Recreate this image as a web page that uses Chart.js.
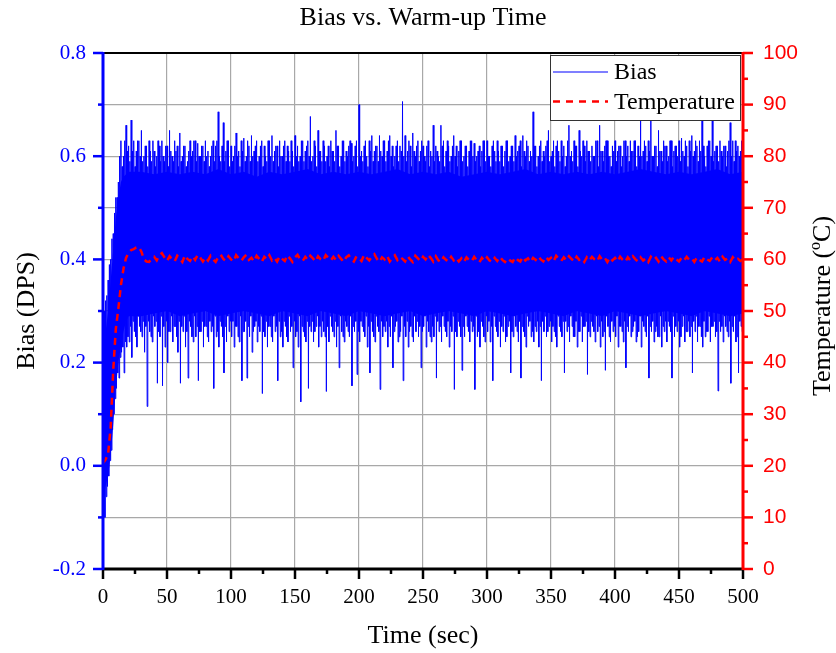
<!DOCTYPE html>
<html>
<head>
<meta charset="utf-8">
<script src="https://cdn.jsdelivr.net/npm/chart.js@4"></script>
<style>
  body { margin: 0; background: #fff; }
  canvas { display: block; }
</style>
</head>
<body>
<canvas id="warmupChart" width="836" height="653"></canvas>
<script>
// bias trace: a peak value at every whole second, a dip value half a second later
const biasPeak = [
  0.26, 0.30, 0.32, 0.33, 0.36, 0.39, 0.40, 0.44, 0.45, 0.49, 0.52, 0.52, 0.55, 0.60, 0.63, 0.58, 0.60, 0.63, 0.66, 0.61,
  0.62, 0.59, 0.67, 0.61, 0.63, 0.58, 0.61, 0.63, 0.63, 0.60, 0.65, 0.59, 0.60, 0.62, 0.62, 0.58, 0.63, 0.61, 0.59, 0.63,
  0.61, 0.58, 0.60, 0.63, 0.62, 0.59, 0.63, 0.60, 0.59, 0.62, 0.62, 0.58, 0.65, 0.61, 0.60, 0.59, 0.63, 0.61, 0.62, 0.58,
  0.645, 0.59, 0.60, 0.62, 0.62, 0.58, 0.59, 0.61, 0.63, 0.60, 0.61, 0.63, 0.63, 0.59, 0.625, 0.60, 0.60, 0.62, 0.62, 0.59,
  0.63, 0.60, 0.61, 0.58, 0.60, 0.62, 0.63, 0.59, 0.62, 0.63, 0.686, 0.60, 0.59, 0.62, 0.665, 0.59, 0.61, 0.63, 0.63, 0.58,
  0.62, 0.59, 0.60, 0.62, 0.645, 0.60, 0.61, 0.58, 0.63, 0.61, 0.635, 0.59, 0.60, 0.63, 0.62, 0.59, 0.64, 0.60, 0.61, 0.62,
  0.63, 0.59, 0.60, 0.62, 0.63, 0.58, 0.62, 0.60, 0.59, 0.63, 0.63, 0.60, 0.64, 0.59, 0.61, 0.62, 0.62, 0.58, 0.63, 0.60,
  0.60, 0.62, 0.63, 0.59, 0.62, 0.61, 0.59, 0.63, 0.61, 0.58, 0.64, 0.60, 0.62, 0.59, 0.60, 0.63, 0.63, 0.59, 0.61, 0.62,
  0.63, 0.60, 0.677, 0.59, 0.60, 0.63, 0.62, 0.58, 0.65, 0.61, 0.61, 0.59, 0.63, 0.62, 0.59, 0.60, 0.62, 0.58, 0.63, 0.61,
  0.61, 0.59, 0.65, 0.62, 0.62, 0.58, 0.60, 0.63, 0.63, 0.59, 0.61, 0.60, 0.62, 0.63, 0.625, 0.59, 0.60, 0.62, 0.63, 0.58,
  0.70, 0.60, 0.61, 0.59, 0.62, 0.63, 0.60, 0.58, 0.63, 0.61, 0.64, 0.59, 0.61, 0.62, 0.62, 0.59, 0.64, 0.61, 0.60, 0.63,
  0.63, 0.59, 0.61, 0.63, 0.64, 0.60, 0.62, 0.58, 0.60, 0.62, 0.63, 0.59, 0.62, 0.61, 0.706, 0.60, 0.64, 0.59, 0.61, 0.63,
  0.62, 0.58, 0.645, 0.61, 0.60, 0.62, 0.63, 0.59, 0.61, 0.63, 0.62, 0.60, 0.59, 0.62, 0.63, 0.58, 0.61, 0.60, 0.66, 0.59,
  0.62, 0.61, 0.60, 0.59, 0.66, 0.62, 0.63, 0.58, 0.61, 0.63, 0.62, 0.59, 0.60, 0.62, 0.64, 0.60, 0.62, 0.58, 0.61, 0.63,
  0.63, 0.59, 0.60, 0.62, 0.62, 0.58, 0.61, 0.63, 0.63, 0.60, 0.625, 0.59, 0.60, 0.61, 0.62, 0.58, 0.61, 0.63, 0.63, 0.59,
  0.63, 0.60, 0.60, 0.58, 0.62, 0.63, 0.61, 0.59, 0.63, 0.61, 0.59, 0.62, 0.62, 0.58, 0.61, 0.63, 0.63, 0.59, 0.60, 0.62,
  0.62, 0.59, 0.64, 0.60, 0.61, 0.62, 0.63, 0.58, 0.64, 0.61, 0.60, 0.63, 0.62, 0.59, 0.61, 0.60, 0.686, 0.62, 0.62, 0.58,
  0.60, 0.62, 0.63, 0.59, 0.61, 0.60, 0.62, 0.63, 0.65, 0.59, 0.60, 0.61, 0.63, 0.58, 0.62, 0.63, 0.61, 0.59, 0.63, 0.60,
  0.62, 0.58, 0.60, 0.63, 0.66, 0.60, 0.61, 0.59, 0.63, 0.62, 0.62, 0.58, 0.65, 0.61, 0.60, 0.63, 0.62, 0.59, 0.63, 0.61,
  0.61, 0.59, 0.62, 0.60, 0.60, 0.63, 0.63, 0.58, 0.66, 0.61, 0.61, 0.59, 0.62, 0.63, 0.63, 0.60, 0.60, 0.58, 0.62, 0.61,
  0.63, 0.59, 0.61, 0.62, 0.62, 0.58, 0.60, 0.63, 0.63, 0.60, 0.62, 0.59, 0.63, 0.61, 0.61, 0.63, 0.63, 0.58, 0.62, 0.60,
  0.67, 0.60, 0.61, 0.63, 0.62, 0.59, 0.63, 0.61, 0.67, 0.60, 0.60, 0.62, 0.62, 0.58, 0.65, 0.61, 0.61, 0.59, 0.63, 0.62,
  0.62, 0.59, 0.60, 0.63, 0.63, 0.58, 0.61, 0.62, 0.62, 0.60, 0.63, 0.59, 0.635, 0.61, 0.60, 0.63, 0.62, 0.58, 0.63, 0.61,
  0.64, 0.60, 0.61, 0.63, 0.62, 0.59, 0.63, 0.61, 0.67, 0.62, 0.60, 0.58, 0.62, 0.63, 0.63, 0.60, 0.67, 0.59, 0.61, 0.62,
  0.62, 0.59, 0.63, 0.61, 0.60, 0.62, 0.62, 0.58, 0.61, 0.63, 0.665, 0.60, 0.63, 0.59, 0.63, 0.61, 0.62, 0.60, 0.61, 0.63,
  0.62
];

const biasDip = [
  -0.09, -0.10, -0.06, -0.04, -0.02, 0.01, 0.03, 0.07, 0.10, 0.13, 0.15, 0.18, 0.17, 0.21, 0.22, 0.23, 0.18, 0.24, 0.23, 0.25,
  0.24, 0.27, 0.21, 0.28, 0.26, 0.25, 0.23, 0.29, 0.27, 0.26, 0.25, 0.28, 0.22, 0.27, 0.115, 0.28, 0.26, 0.25, 0.24, 0.29,
  0.27, 0.28, 0.16, 0.26, 0.25, 0.29, 0.155, 0.27, 0.23, 0.28, 0.20, 0.26, 0.26, 0.29, 0.24, 0.27, 0.27, 0.25, 0.22, 0.28,
  0.16, 0.27, 0.26, 0.29, 0.23, 0.26, 0.17, 0.28, 0.27, 0.25, 0.24, 0.29, 0.25, 0.27, 0.165, 0.26, 0.26, 0.28, 0.23, 0.27,
  0.27, 0.25, 0.24, 0.28, 0.26, 0.27, 0.15, 0.29, 0.25, 0.26, 0.23, 0.28, 0.27, 0.25, 0.18, 0.27, 0.24, 0.29, 0.26, 0.28,
  0.25, 0.28, 0.23, 0.27, 0.27, 0.25, 0.24, 0.29, 0.165, 0.26, 0.26, 0.28, 0.17, 0.27, 0.25, 0.29, 0.22, 0.26, 0.27, 0.28,
  0.24, 0.27, 0.26, 0.29, 0.14, 0.26, 0.25, 0.28, 0.23, 0.27, 0.27, 0.25, 0.24, 0.29, 0.26, 0.27, 0.165, 0.28, 0.25, 0.26,
  0.23, 0.28, 0.27, 0.25, 0.24, 0.29, 0.26, 0.27, 0.19, 0.28, 0.25, 0.26, 0.23, 0.29, 0.124, 0.27, 0.26, 0.25, 0.24, 0.28,
  0.15, 0.27, 0.26, 0.28, 0.24, 0.26, 0.27, 0.29, 0.23, 0.27, 0.25, 0.28, 0.26, 0.25, 0.144, 0.27, 0.24, 0.29, 0.27, 0.26,
  0.25, 0.28, 0.23, 0.27, 0.19, 0.29, 0.26, 0.25, 0.24, 0.28, 0.27, 0.26, 0.25, 0.29, 0.155, 0.27, 0.26, 0.28, 0.177, 0.26,
  0.24, 0.28, 0.27, 0.26, 0.25, 0.29, 0.23, 0.27, 0.18, 0.28, 0.26, 0.25, 0.24, 0.29, 0.27, 0.26, 0.148, 0.28, 0.25, 0.27,
  0.26, 0.28, 0.23, 0.27, 0.25, 0.29, 0.19, 0.26, 0.27, 0.28, 0.24, 0.25, 0.26, 0.29, 0.165, 0.27, 0.25, 0.28, 0.23, 0.26,
  0.27, 0.25, 0.24, 0.29, 0.26, 0.28, 0.25, 0.27, 0.19, 0.26, 0.27, 0.29, 0.23, 0.28, 0.26, 0.25, 0.24, 0.27, 0.25, 0.29,
  0.17, 0.28, 0.26, 0.27, 0.24, 0.29, 0.27, 0.26, 0.25, 0.28, 0.23, 0.27, 0.26, 0.29, 0.148, 0.26, 0.25, 0.28, 0.27, 0.25,
  0.185, 0.27, 0.25, 0.29, 0.27, 0.26, 0.24, 0.28, 0.26, 0.27, 0.148, 0.29, 0.25, 0.26, 0.23, 0.28, 0.27, 0.25, 0.24, 0.29,
  0.26, 0.28, 0.24, 0.27, 0.165, 0.29, 0.27, 0.26, 0.25, 0.28, 0.23, 0.27, 0.26, 0.29, 0.24, 0.25, 0.27, 0.28, 0.18, 0.26,
  0.25, 0.29, 0.27, 0.26, 0.24, 0.28, 0.17, 0.27, 0.26, 0.25, 0.23, 0.29, 0.27, 0.28, 0.25, 0.26, 0.24, 0.27, 0.26, 0.28,
  0.23, 0.27, 0.165, 0.28, 0.26, 0.29, 0.25, 0.26, 0.27, 0.28, 0.24, 0.27, 0.26, 0.25, 0.23, 0.29, 0.27, 0.26, 0.25, 0.28,
  0.18, 0.28, 0.26, 0.27, 0.24, 0.29, 0.27, 0.25, 0.25, 0.28, 0.23, 0.26, 0.26, 0.29, 0.24, 0.27, 0.27, 0.28, 0.177, 0.26,
  0.25, 0.28, 0.27, 0.26, 0.24, 0.29, 0.26, 0.27, 0.23, 0.28, 0.25, 0.26, 0.185, 0.29, 0.27, 0.25, 0.24, 0.28, 0.26, 0.27,
  0.25, 0.29, 0.23, 0.27, 0.27, 0.26, 0.24, 0.28, 0.19, 0.27, 0.26, 0.29, 0.25, 0.26, 0.27, 0.28, 0.24, 0.25, 0.26, 0.29,
  0.23, 0.28, 0.27, 0.26, 0.25, 0.29, 0.17, 0.27, 0.26, 0.28, 0.24, 0.26, 0.27, 0.25, 0.25, 0.29, 0.23, 0.27, 0.26, 0.28,
  0.24, 0.28, 0.27, 0.26, 0.17, 0.29, 0.25, 0.27, 0.26, 0.28, 0.23, 0.25, 0.27, 0.29, 0.24, 0.26, 0.26, 0.28, 0.25, 0.27,
  0.18, 0.28, 0.26, 0.29, 0.24, 0.27, 0.27, 0.25, 0.23, 0.28, 0.25, 0.26, 0.26, 0.29, 0.24, 0.27, 0.27, 0.28, 0.25, 0.26,
  0.145, 0.28, 0.26, 0.27, 0.24, 0.29, 0.27, 0.26, 0.25, 0.28, 0.16, 0.27, 0.26, 0.29, 0.24, 0.25, 0.18, 0.28, 0.27, 0.26
];

// the solid core of the noise band (where the trace is fully dense)
const coreTimes = [
  0, 2, 4, 6, 8, 10, 12, 14, 16, 18, 20,
  30, 40, 50, 60, 70, 80, 90, 100, 110, 120, 130, 140, 150, 160,
  170, 180, 190, 200, 210, 220, 230, 240, 250, 260, 270, 280, 290, 300,
  310, 320, 330, 340, 350, 360, 370, 380, 390, 400, 410, 420, 430, 440,
  450, 460, 470, 480, 490, 500
];
const coreTop = [
  0.20, 0.26, 0.30, 0.36, 0.42, 0.48, 0.52, 0.55, 0.56, 0.565, 0.57,
  0.57, 0.565, 0.57, 0.565, 0.57, 0.565, 0.575, 0.565, 0.57, 0.56, 0.57, 0.565, 0.57, 0.575,
  0.565, 0.57, 0.565, 0.57, 0.565, 0.57, 0.575, 0.565, 0.57, 0.565, 0.57, 0.56, 0.565, 0.57,
  0.565, 0.57, 0.575, 0.565, 0.57, 0.565, 0.57, 0.565, 0.57, 0.565, 0.57, 0.575, 0.57, 0.565,
  0.57, 0.565, 0.57, 0.575, 0.565, 0.57
];
const coreBottom = [
  -0.07, -0.04, -0.02, 0.02, 0.08, 0.15, 0.20, 0.23, 0.26, 0.28, 0.29,
  0.29, 0.295, 0.30, 0.29, 0.295, 0.30, 0.29, 0.295, 0.30, 0.295, 0.29, 0.30, 0.295, 0.29,
  0.30, 0.295, 0.29, 0.30, 0.295, 0.29, 0.295, 0.30, 0.29, 0.295, 0.30, 0.295, 0.29, 0.30,
  0.295, 0.29, 0.295, 0.30, 0.295, 0.29, 0.30, 0.295, 0.29, 0.30, 0.295, 0.29, 0.295, 0.30,
  0.295, 0.29, 0.30, 0.295, 0.29, 0.295
];

// temperature (°C), one value every 2 s
const TEMP_STEP = 2;
const temperature = [
  20.5, 21.2, 22.3, 27.5, 38.5, 46.5, 50.5, 55.0, 58.2, 60.3,
  61.3, 61.8, 62.0, 62.3, 62.4, 61.5, 60.0, 59.6, 59.5, 60.1,
  60.5, 59.8, 60.8, 61.2, 60.4, 59.7, 60.6, 60.0, 59.6, 60.7,
  60.2, 59.5, 60.8, 60.1, 59.7, 60.6, 59.9, 60.9, 60.3, 59.6,
  60.4, 59.8, 60.7, 60.0, 59.5, 60.5, 60.9, 60.1, 59.7, 60.6,
  60.0, 59.6, 60.8, 60.2, 59.7, 60.4, 60.9, 59.9, 60.3, 59.6,
  60.7, 60.1, 59.5, 60.5, 60.0, 60.8, 59.8, 60.3, 59.6, 60.6,
  60.1, 59.7, 60.8, 60.2, 59.5, 60.4, 60.9, 60.0, 59.7, 60.5,
  59.9, 60.7, 60.2, 59.6, 60.6, 60.0, 59.7, 60.8, 60.3, 59.8,
  60.5, 59.9, 60.7, 60.1, 59.5, 60.4, 60.8, 60.0, 59.6, 60.6,
  60.2, 59.7, 60.9, 60.3, 59.8, 60.5, 61.0, 60.1, 59.5, 60.4,
  60.0, 60.7, 59.6, 60.3, 60.8, 59.9, 60.5, 60.1, 59.6, 60.6,
  60.0, 59.5, 60.7, 60.2, 59.7, 60.5, 60.0, 60.9, 60.3, 59.6,
  60.6, 59.8, 59.5, 60.4, 59.9, 59.6, 60.5, 59.8, 60.3, 59.6,
  60.2, 59.5, 60.4, 59.9, 59.6, 60.5, 59.8, 59.4, 60.3, 59.7,
  60.4, 59.8, 59.5, 60.3, 59.7, 60.5, 59.9, 59.5, 60.2, 59.8,
  59.5, 60.4, 59.9, 59.6, 60.5, 59.8, 60.2, 59.5, 60.3, 59.9,
  60.6, 60.0, 59.6, 60.5, 59.9, 60.3, 59.6, 60.7, 60.1, 59.7,
  60.4, 59.8, 60.6, 60.1, 59.6, 60.5, 59.9, 60.2, 59.5, 60.4,
  59.8, 60.5, 60.0, 59.6, 60.6, 59.9, 60.3, 59.5, 60.4, 59.8,
  60.3, 59.6, 60.5, 59.9, 59.5, 60.4, 59.8, 60.6, 60.0, 59.6,
  60.4, 59.8, 60.2, 59.5, 60.5, 59.9, 60.3, 59.6, 60.6, 60.0,
  59.6, 60.4, 59.8, 60.5, 60.0, 59.6, 60.3, 59.8, 60.5, 59.9,
  60.2, 59.5, 60.4, 59.9, 59.6, 60.5, 60.0, 59.7, 60.4, 59.8,
  60.3, 59.6, 60.5, 59.9, 60.2, 59.5, 60.4, 59.8, 60.1, 59.7,
  60.0
];

const SERIF = '"Liberation Serif", "Times New Roman", serif';
const SANS = '"Liberation Sans", Arial, sans-serif';
const BLUE = '#0000ff';
const RED = '#ff0000';

const biasPoints = [];
biasPeak.forEach((v, i) => {
  biasPoints.push({ x: i, y: v });
  if (i < biasDip.length) biasPoints.push({ x: i + 0.5, y: biasDip[i] });
});
const tempPoints = temperature.map((v, i) => ({ x: i * TEMP_STEP, y: v }));
const coreTopPoints = coreTop.map((v, i) => ({ x: coreTimes[i], y: v }));
const coreBottomPoints = coreBottom.map((v, i) => ({ x: coreTimes[i], y: v }));

const isMajor = (scale, value) => {
  if (scale.id === 'x') return Math.round(value) % 50 === 0;
  if (scale.id === 'y') return Math.round(value * 10) % 2 === 0;
  return Math.round(value) % 10 === 0;
};

// frame, tick marks, titles and the boxed legend
const decorations = {
  id: 'decorations',
  afterDraw(chart) {
    const { ctx, chartArea: a, scales } = chart;
    ctx.save();

    // tick marks
    const drawTicks = (scale, color, dir) => {
      ctx.strokeStyle = color;
      ctx.lineWidth = 2.5;
      scale.ticks.forEach(t => {
        const len = isMajor(scale, t.value) ? 10 : 5;
        const p = scale.getPixelForValue(t.value);
        ctx.beginPath();
        if (dir === 'down') { ctx.moveTo(p, a.bottom); ctx.lineTo(p, a.bottom + len); }
        else if (dir === 'left') { ctx.moveTo(a.left, p); ctx.lineTo(a.left - len, p); }
        else { ctx.moveTo(a.right, p); ctx.lineTo(a.right + len, p); }
        ctx.stroke();
      });
    };
    drawTicks(scales.x, '#000', 'down');
    drawTicks(scales.y, BLUE, 'left');
    drawTicks(scales.y2, RED, 'right');

    // frame lines
    ctx.lineWidth = 2;
    ctx.strokeStyle = '#000';
    ctx.beginPath(); ctx.moveTo(a.left, a.top); ctx.lineTo(a.right, a.top); ctx.stroke();
    ctx.lineWidth = 3;
    ctx.beginPath(); ctx.moveTo(a.left - 1, a.bottom); ctx.lineTo(a.right + 1, a.bottom); ctx.stroke();
    ctx.strokeStyle = BLUE;
    ctx.beginPath(); ctx.moveTo(a.left, a.top - 1); ctx.lineTo(a.left, a.bottom + 1); ctx.stroke();
    ctx.strokeStyle = RED;
    ctx.beginPath(); ctx.moveTo(a.right, a.top - 1); ctx.lineTo(a.right, a.bottom + 1); ctx.stroke();

    // titles
    ctx.fillStyle = '#000';
    ctx.textAlign = 'center';
    ctx.textBaseline = 'middle';
    const midX = (a.left + a.right) / 2;
    ctx.font = '26px ' + SERIF;
    ctx.fillText('Bias vs. Warm-up Time', midX, 18);
    ctx.fillText('Time (sec)', midX, 636);

    ctx.save();
    ctx.translate(27, (a.top + a.bottom) / 2);
    ctx.rotate(-Math.PI / 2);
    ctx.fillText('Bias (DPS)', 0, 0);
    ctx.restore();

    // right title with superscript o, reading bottom to top
    ctx.save();
    ctx.translate(823, (a.top + a.bottom) / 2 - 5);
    ctx.rotate(-Math.PI / 2);
    const partA = 'Temperature (', partB = 'o', partC = 'C)';
    ctx.font = '26px ' + SERIF;
    const wA = ctx.measureText(partA).width, wC = ctx.measureText(partC).width;
    ctx.font = '16px ' + SERIF;
    const wB = ctx.measureText(partB).width;
    const x0 = -(wA + wB + wC) / 2;
    ctx.textAlign = 'left';
    ctx.font = '26px ' + SERIF;
    ctx.fillText(partA, x0, 0);
    ctx.font = '16px ' + SERIF;
    ctx.fillText(partB, x0 + wA, -7);
    ctx.font = '26px ' + SERIF;
    ctx.fillText(partC, x0 + wA + wB, 0);
    ctx.restore();

    // legend box
    const bx = a.right - 193, by = a.top + 2, bw = 190, bh = 65;
    ctx.fillStyle = '#fff';
    ctx.fillRect(bx, by, bw, bh);
    ctx.strokeStyle = '#333';
    ctx.lineWidth = 1;
    ctx.strokeRect(bx + 0.5, by + 0.5, bw, bh);
    const rows = [
      { label: 'Bias', color: BLUE, width: 1.2, dash: [] },
      { label: 'Temperature', color: RED, width: 2.5, dash: [7, 6] }
    ];
    ctx.font = '24px ' + SERIF;
    ctx.textAlign = 'left';
    rows.forEach((r, i) => {
      const ly = by + 17 + i * 29.5;
      ctx.strokeStyle = r.color;
      ctx.lineWidth = r.width;
      ctx.setLineDash(r.dash);
      ctx.beginPath(); ctx.moveTo(bx + 3, ly); ctx.lineTo(bx + 58, ly); ctx.stroke();
      ctx.setLineDash([]);
      ctx.fillStyle = '#000';
      ctx.fillText(r.label, bx + 64, ly + 1);
    });

    ctx.restore();
  }
};

new Chart(document.getElementById('warmupChart'), {
  type: 'line',
  data: {
    datasets: [
      {
        label: 'Temperature',
        data: tempPoints,
        yAxisID: 'y2',
        borderColor: RED,
        borderWidth: 2.5,
        borderDash: [7, 5],
        pointRadius: 0,
        tension: 0,
        order: 0
      },
      {
        label: 'coreTop',
        data: coreTopPoints,
        yAxisID: 'y',
        borderWidth: 0,
        pointRadius: 0,
        fill: false,
        order: 2
      },
      {
        label: 'coreBottom',
        data: coreBottomPoints,
        yAxisID: 'y',
        borderWidth: 0,
        pointRadius: 0,
        backgroundColor: BLUE,
        fill: '-1',
        order: 2
      },
      {
        label: 'Bias',
        data: biasPoints,
        yAxisID: 'y',
        borderColor: BLUE,
        borderWidth: 1,
        borderJoinStyle: 'bevel',
        pointRadius: 0,
        tension: 0,
        order: 1
      }
    ]
  },
  options: {
    responsive: false,
    animation: false,
    devicePixelRatio: 1,
    layout: { padding: { top: 53 } },
    plugins: {
      legend: { display: false },
      title: { display: false },
      tooltip: { enabled: false }
    },
    scales: {
      x: {
        type: 'linear',
        min: 0,
        max: 500,
        afterFit: s => { s.height = 84; },
        border: { display: false },
        grid: {
          drawTicks: false,
          color: ctx => (ctx.tick && Math.round(ctx.tick.value) % 50 === 0) ? '#a8a8a8' : 'rgba(0,0,0,0)',
          lineWidth: 1.2
        },
        ticks: {
          stepSize: 25,
          autoSkip: false,
          maxRotation: 0,
          padding: 16,
          color: '#000',
          font: { family: SERIF, size: 21 },
          callback: v => (Math.round(v) % 50 === 0 ? String(Math.round(v)) : '')
        }
      },
      y: {
        position: 'left',
        min: -0.2,
        max: 0.8,
        afterFit: s => { s.width = 103; },
        border: { display: false },
        grid: { drawTicks: false, color: '#a8a8a8', lineWidth: 1.2 },
        ticks: {
          stepSize: 0.1,
          autoSkip: false,
          padding: 17,
          color: BLUE,
          font: { family: SERIF, size: 21 },
          callback: v => (Math.round(v * 10) % 2 === 0 ? v.toFixed(1) : '')
        }
      },
      y2: {
        position: 'right',
        min: 0,
        max: 100,
        afterFit: s => { s.width = 93; },
        border: { display: false },
        grid: { display: false, drawTicks: false },
        ticks: {
          stepSize: 5,
          autoSkip: false,
          padding: 20,
          color: RED,
          font: { family: SANS, size: 21 },
          callback: v => (Math.round(v) % 10 === 0 ? String(Math.round(v)) : '')
        }
      }
    }
  },
  plugins: [decorations]
});
</script>
</body>
</html>
